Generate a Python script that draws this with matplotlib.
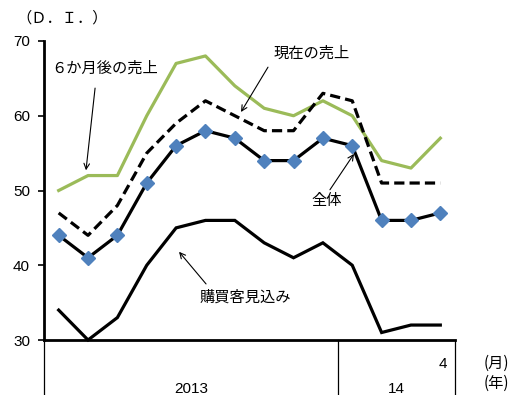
import matplotlib
matplotlib.use("Agg")
import matplotlib.pyplot as plt
import numpy as np

plt.rcParams['font.family'] = ['Noto Sans CJK JP', 'DejaVu Sans']

# 2013/3 - 2014/4, monthly D.I.
months = list(range(3, 13)) + [1, 2, 3, 4]
future_sales = [50, 52, 52, 60, 67, 68, 64, 61, 60, 62, 60, 54, 53, 57]
current_sales = [47, 44, 48, 55, 59, 62, 60, 58, 58, 63, 62, 51, 51, 51]
overall = [44, 41, 44, 51, 56, 58, 57, 54, 54, 57, 56, 46, 46, 47]
customers = [34, 30, 33, 40, 45, 46, 46, 43, 41, 43, 40, 31, 32, 32]
years = ['2013', '14']
year_counts = [10, 4]

x = np.arange(len(months))

fig = plt.figure(figsize=(5.12, 3.95), dpi=100)
ax = fig.add_axes([44 / 512, 1 - 340 / 395, 411 / 512, 299 / 395])

ax.plot(x, future_sales, color='#9BBB59', lw=2.3, clip_on=False)
ax.plot(x, current_sales, color='black', lw=2.3, ls=(0, (3.2, 1.6)), clip_on=False)
ax.plot(x, customers, color='black', lw=2.3, clip_on=False, solid_joinstyle='miter')
ax.plot(x, overall, color='black', lw=2.3, clip_on=False, zorder=3)
ax.plot(x, overall, ls='none', marker='D', ms=6.8, color='#4F81BD',
        markeredgecolor='#4F81BD', clip_on=False, zorder=4)

ax.set_xlim(-0.5, len(months) - 0.5)
ax.set_ylim(30, 70)
ax.set_yticks([30, 40, 50, 60, 70])
ax.tick_params(axis='y', direction='out', length=4, width=1.2, pad=6)
for lab in ax.get_yticklabels():
    lab.set_fontfamily('Liberation Sans')
    lab.set_fontsize(11)
ax.set_xticks([])
for s in ['top', 'right']:
    ax.spines[s].set_visible(False)
ax.spines['left'].set_linewidth(2)
ax.spines['bottom'].set_linewidth(2)

# category box under the axis
trans = ax.get_xaxis_transform()
edges = [-0.5]
for n in year_counts:
    edges.append(edges[-1] + n)
for e in edges:
    ax.plot([e, e], [0, -0.2], color='black', lw=0.9, transform=trans, clip_on=False)

ax.text(x[-1] + 0.1, -0.08, str(months[-1]), transform=trans, ha='center', va='center',
        fontsize=11, family='Liberation Sans')
for i, yr in enumerate(years):
    ax.text((edges[i] + edges[i + 1]) / 2, -0.165, yr, transform=trans, ha='center',
            va='center', fontsize=11, family='Liberation Sans')

fig.text(496 / 512, 1 - 363 / 395, '(月)', ha='center', va='center', fontsize=11)
fig.text(496 / 512, 1 - 383 / 395, '(年)', ha='center', va='center', fontsize=11)
fig.text(62 / 512, 1 - 18 / 395, '（Ｄ．Ｉ．）', ha='center', va='center', fontsize=11)

arrow = dict(arrowstyle='->', lw=0.8, color='black', shrinkA=0, shrinkB=0)

ax.text(1.58, 66.4, '６か月後の売上', ha='center', va='center', fontsize=11)
ax.annotate('', xy=(0.93, 52.7), xytext=(1.24, 63.7), arrowprops=arrow)

ax.text(8.63, 68.4, '現在の売上', ha='center', va='center', fontsize=11)
ax.annotate('', xy=(6.21, 60.5), xytext=(7.13, 66.5), arrowprops=arrow)

ax.text(9.14, 48.6, '全体', ha='center', va='center', fontsize=11)
ax.annotate('', xy=(10.06, 54.9), xytext=(9.24, 50.1), arrowprops=arrow)

ax.text(6.35, 35.75, '購買客見込み', ha='center', va='center', fontsize=11)
ax.annotate('', xy=(4.1, 41.8), xytext=(5.02, 37.5), arrowprops=arrow)

fig.savefig('out.png', dpi=100)
